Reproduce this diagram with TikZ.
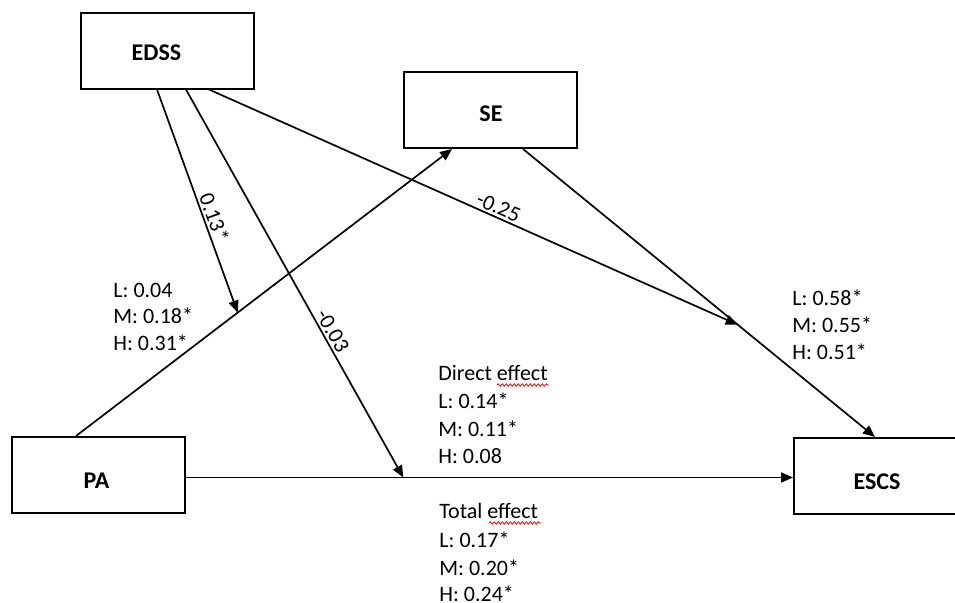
\documentclass[tikz,border=0pt]{standalone}
\usepackage{fontspec}
\setmainfont{Carlito}
\usetikzlibrary{arrows.meta,calc,decorations.pathmorphing}
\begin{document}
\begin{tikzpicture}[x=0.5pt,y=-0.5pt,
  box/.style={draw, line width=1pt, minimum width=86.5pt, minimum height=38pt, inner sep=0pt},
  boxtext/.style={font=\bfseries\fontsize{12}{14}\selectfont, inner sep=0pt},
  conn/.style={line width=0.85pt},
  arr/.style={conn, -{Triangle[length=6pt,width=5pt]}},
  lab/.style={font=\fontsize{11}{13}\selectfont, inner sep=0pt, anchor=base west},
  coef/.style={font=\fontsize{11}{13}\selectfont, sloped, above, inner sep=1pt},
  wavy/.style={draw=red, line width=0.4pt, decorate, decoration={snake, amplitude=0.6pt, segment length=2pt}}
]
\useasboundingbox (0,0) rectangle (955,602);
\clip (0,0) rectangle (955,602);

% boxes
\node[box] (EDSS) at (167.5,50.5) {};
\node[boxtext] (EDSSt) at (156.5,53) {EDSS};
\node[box] (SE) at (490,110) {};
\node[boxtext] (SEt) at (491,114) {SE};
\node[box] (PA) at (98.5,475) {};
\node[boxtext] (PAt) at (96.5,481) {PA};
\node[box, minimum width=83pt] (ESCS) at (877,476) {};
\node[boxtext] (ESCSt) at (877,482) {ESCS};

% anchor points
\coordinate (paTop) at ($(PA.north)+(-22.5,0)$);
\coordinate (seBotL) at ($(SE.south)+(-38,0)$);
\coordinate (seBotR) at ($(SE.south)+(33,0)$);
\coordinate (escsTop) at ($(ESCS.north)+(-2,0)$);
\coordinate (h) at ($(PA.east)+(0,2.5)$);
\coordinate (hEnd) at (h -| ESCS.west);
\coordinate (e1) at ($(EDSS.south)+(-10.5,0)$);
\coordinate (e2) at ($(EDSS.south)+(18.5,0)$);
\coordinate (e3) at ($(EDSS.south)+(41.5,0)$);
\coordinate (t1) at ($(paTop)!0.43!(seBotL)$);
\coordinate (t2) at ($(h)!0.358!(hEnd)$);
\coordinate (t3) at ($(seBotR)!0.61!(escsTop)$);

% connectors
\draw[arr] (paTop) -- (seBotL);
\draw[arr] (seBotR) -- (escsTop);
\draw[arr] (h) -- (hEnd);
\draw[arr] (e1) -- node[coef, pos=0.59] (c1) {0.13*} (t1);
\draw[arr] (e2) -- node[coef, pos=0.635] (c2) {-0.03} (t2);
\draw[arr] (e3) -- node[coef, pos=0.54] (c3) {-0.25} (t3);

% left labels
\node[lab] (l1) at (113,297) {L: 0.04};
\node[lab] (l2) at (113,323) {M: 0.18*};
\node[lab] (l3) at (113,350) {H: 0.31*};

% right labels
\node[lab] (r1) at (792,305) {L: 0.58*};
\node[lab] (r2) at (792,332) {M: 0.55*};
\node[lab] (r3) at (792,359) {H: 0.51*};

% direct effect
\node[lab] (d0) at (438,380) {Direct effect};
\node[lab] (d1) at (438,408) {L: 0.14*};
\node[lab] (d2) at (438,436) {M: 0.11*};
\node[lab] (d3) at (438,463) {H: 0.08};
\draw[wavy] (497,385) -- (549,385);

% total effect
\node[lab] (s0) at (439,518) {Total effect};
\node[lab] (s1) at (439,547) {L: 0.17*};
\node[lab] (s2) at (439,575) {M: 0.20*};
\node[lab] (s3) at (439,601) {H: 0.24*};
\draw[wavy] (489,523) -- (541,523);
\end{tikzpicture}
\end{document}
